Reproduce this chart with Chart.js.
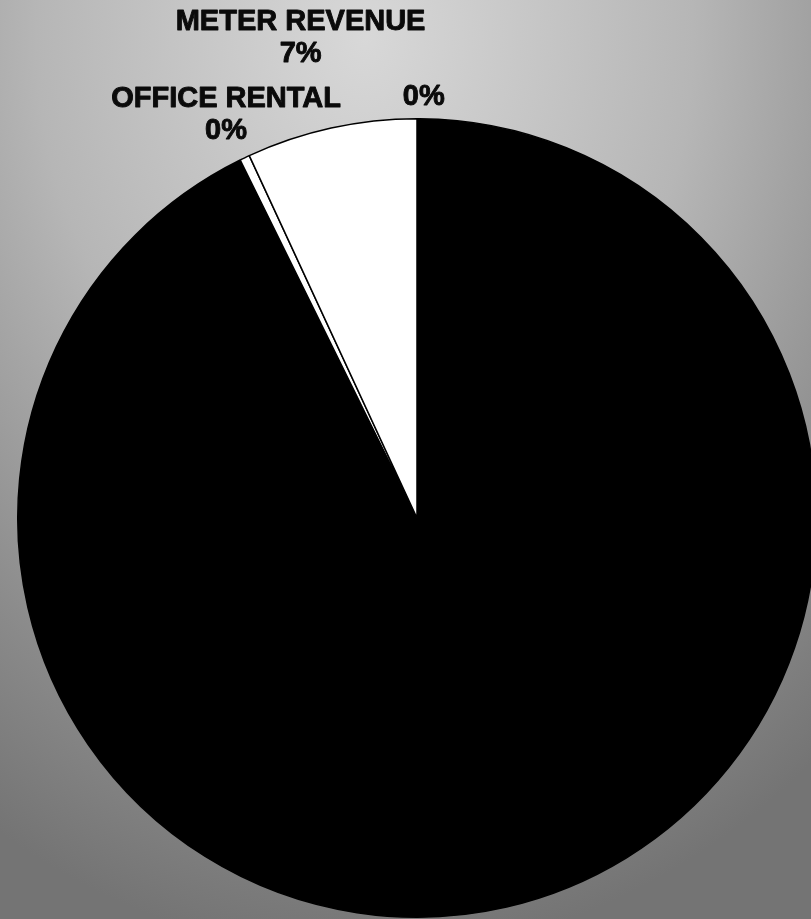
<!DOCTYPE html>
<html>
<head>
<meta charset="utf-8">
<script src="https://cdn.jsdelivr.net/npm/chart.js@4.4.1/dist/chart.umd.min.js"></script>
<style>
  html, body { margin: 0; padding: 0; width: 811px; height: 919px; overflow: hidden; }
  body { background: radial-gradient(ellipse 90% 100% at 45% 4%, #d8d8d8 0%, #b6b6b6 45%, #8a8a8a 80%, #747474 100%); }
  #wrap { position: absolute; left: 0; top: 0; width: 834px; height: 919px; }
</style>
</head>
<body>
<div id="wrap"><canvas id="c" width="834" height="919"></canvas></div>
<script>
// Clockwise from 12 o'clock
const categories = ["", "", "OFFICE RENTAL", "METER REVENUE"];
const values = [0.1, 92.6, 0.4, 6.9];
const sliceColors = ["#000000", "#000000", "#ffffff", "#ffffff"];
const labelVisible = [true, false, true, true];

const total = values.reduce((a, b) => a + b, 0);

const labelPlugin = {
  id: 'outsideLabels',
  afterDatasetsDraw(chart, args, opts) {
    const ctx = chart.ctx;
    const meta = chart.getDatasetMeta(0);
    ctx.save();
    ctx.font = 'bold 29px "Liberation Sans", Arial, sans-serif';
    ctx.fillStyle = '#0a0a0a';
    ctx.strokeStyle = '#0a0a0a';
    ctx.lineWidth = 0.9;
    ctx.lineJoin = 'round';
    ctx.textAlign = 'center';
    ctx.textBaseline = 'middle';
    meta.data.forEach((arc, i) => {
      if (!labelVisible[i]) return;
      const p = arc.getProps(['x', 'y', 'startAngle', 'endAngle', 'outerRadius'], true);
      const mid = (p.startAngle + p.endAngle) / 2 + opts.angleShift[i];
      const d = p.outerRadius + opts.gap[i];
      const cx = p.x + Math.cos(mid) * d;
      const cy = p.y + Math.sin(mid) * d;
      const pct = Math.round(values[i] / total * 100) + '%';
      const lines = categories[i] ? [categories[i], pct] : [pct];
      const lh = 32;
      const y0 = cy - (lines.length - 1) * lh / 2;
      lines.forEach((t, k) => {
        ctx.strokeText(t, cx, y0 + k * lh);
        ctx.fillText(t, cx, y0 + k * lh);
      });
    });
    ctx.restore();
  }
};

new Chart(document.getElementById('c'), {
  type: 'pie',
  data: {
    labels: categories,
    datasets: [{
      data: values,
      backgroundColor: sliceColors,
      borderColor: '#000000',
      borderWidth: 1.5
    }]
  },
  options: {
    responsive: false,
    animation: false,
    layout: { padding: { left: 17, right: 17, top: 117, bottom: 0 } },
    plugins: {
      legend: { display: false },
      tooltip: { enabled: false },
      outsideLabels: {
        gap: [22, 0, 47, 95],
        angleShift: [0.013, 0, 0.004, -0.021]
      }
    }
  },
  plugins: [labelPlugin]
});
</script>
</body>
</html>
